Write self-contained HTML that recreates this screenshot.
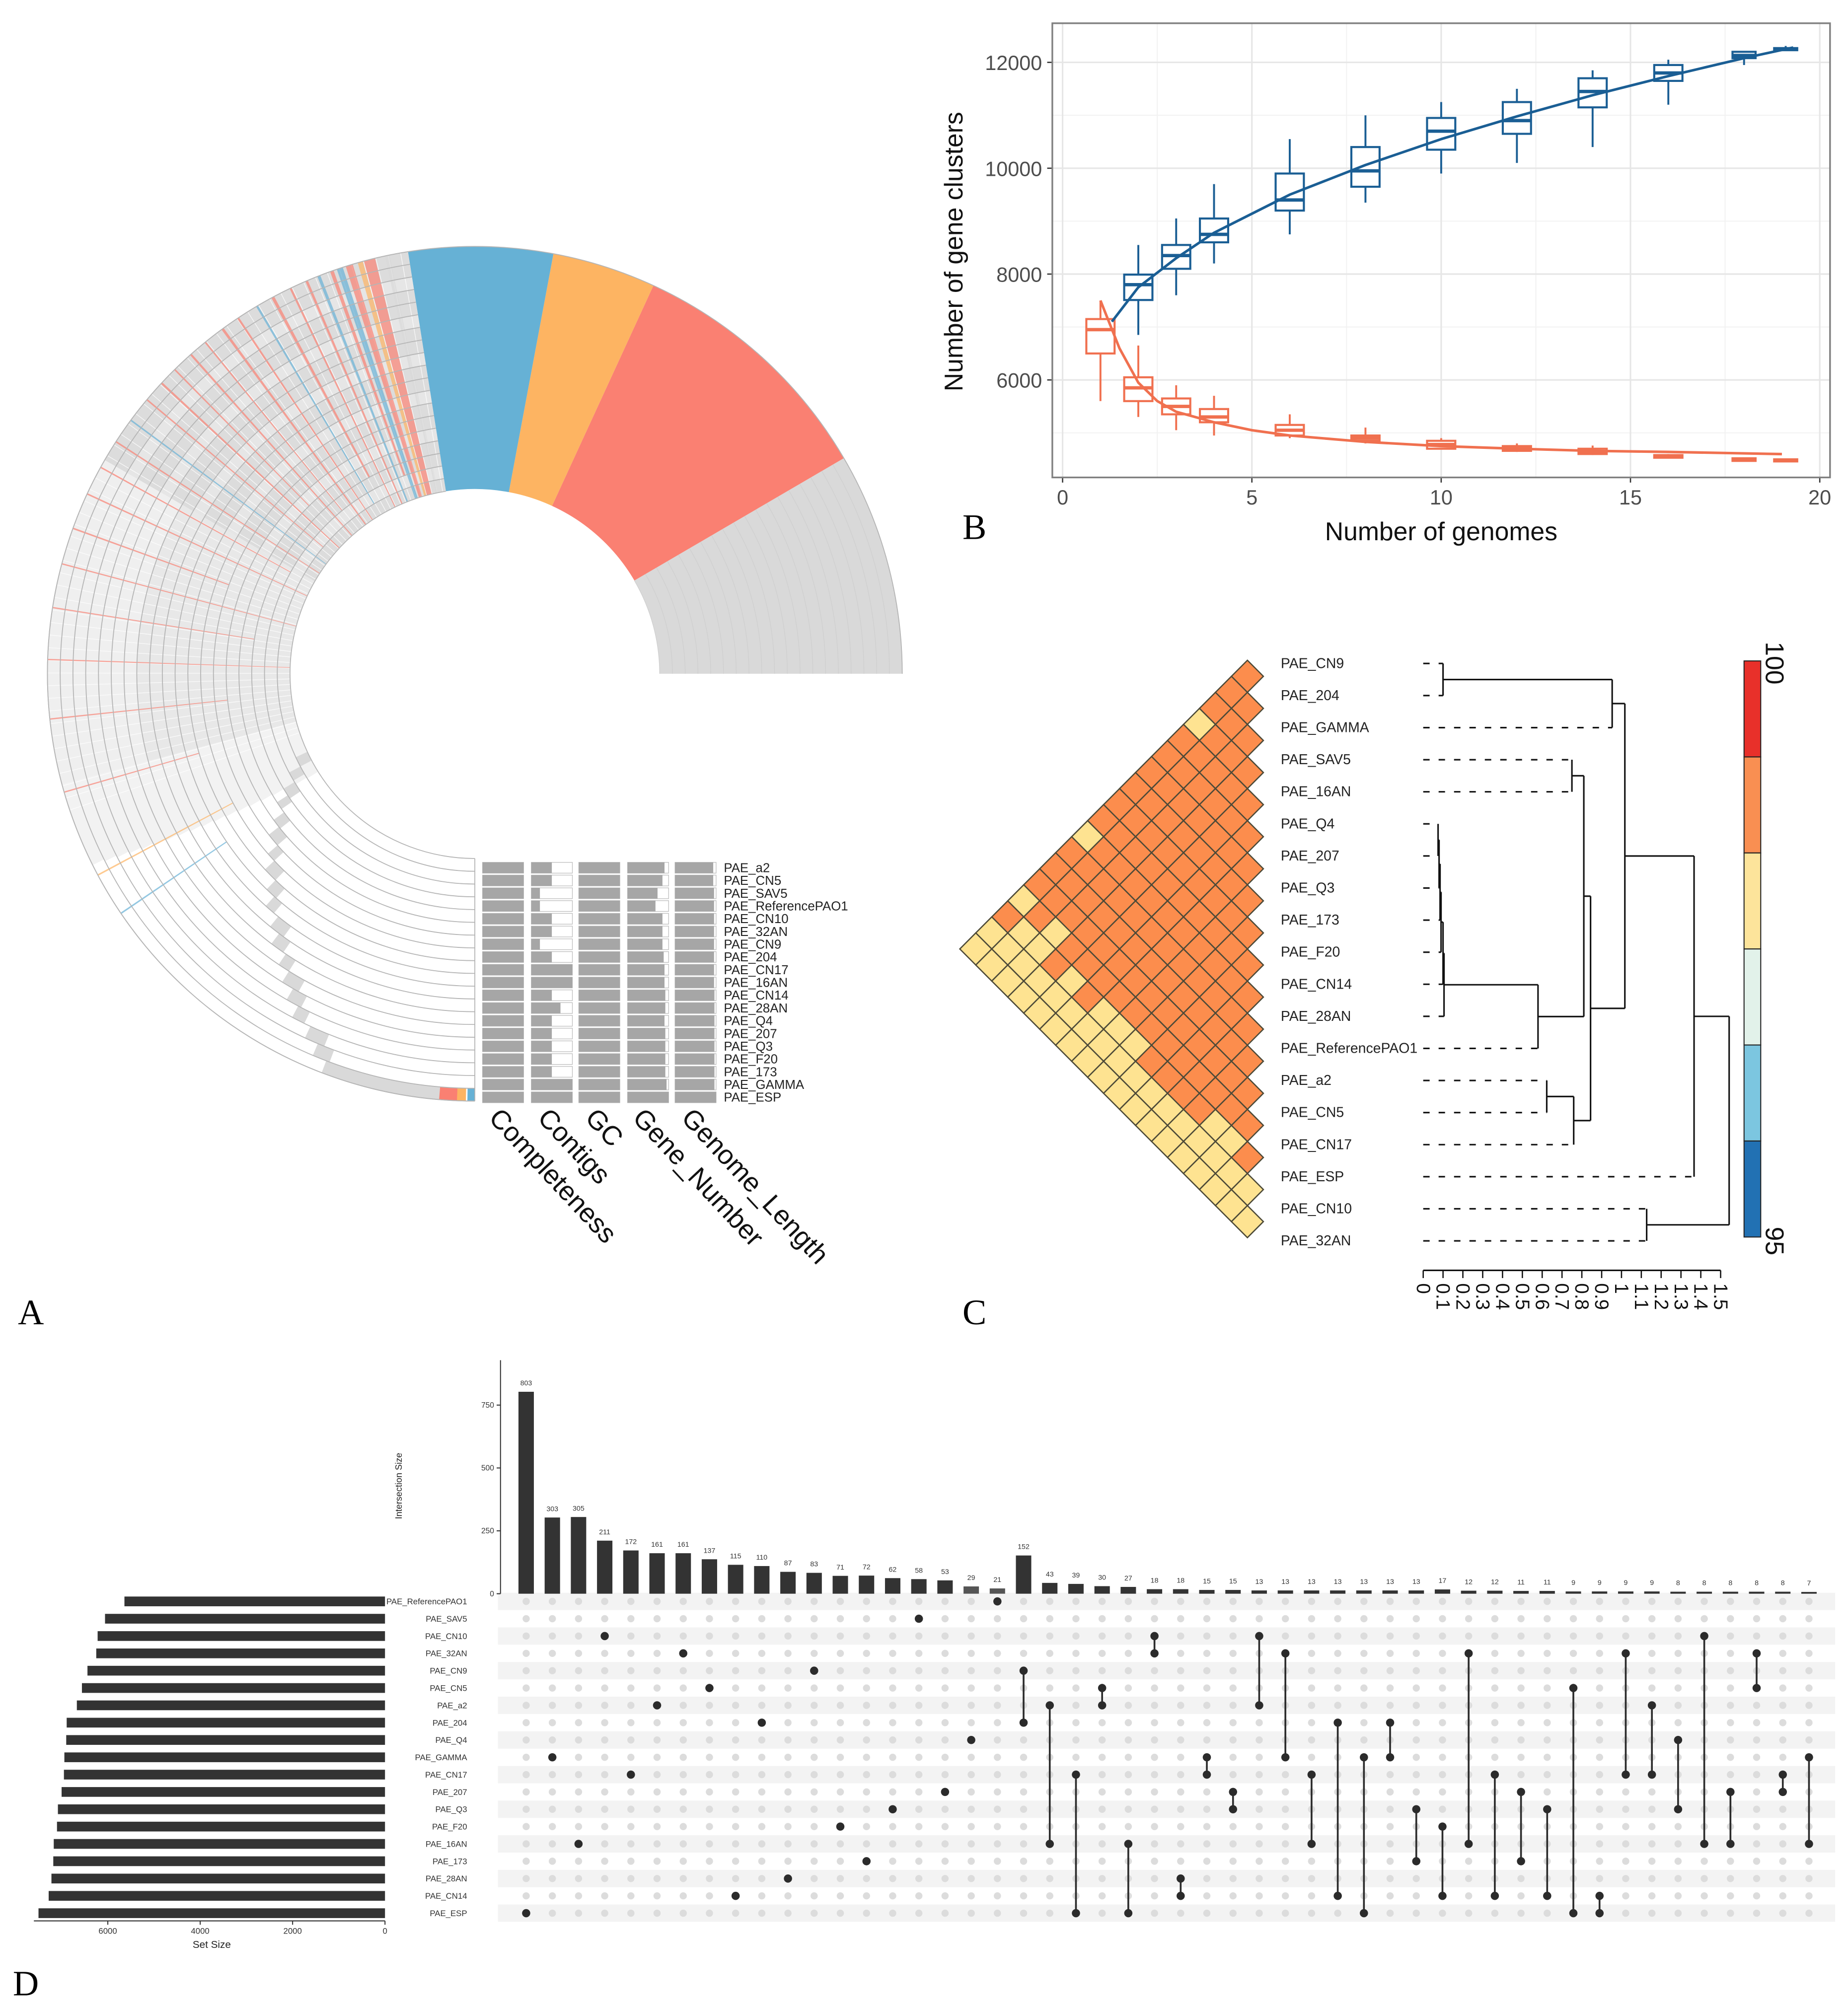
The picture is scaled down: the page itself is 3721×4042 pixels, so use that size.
<!DOCTYPE html>
<html><head><meta charset="utf-8">
<style>
html,body{margin:0;padding:0;background:#fff;}
svg{display:block;font-family:"Liberation Sans",sans-serif;}
.ser{font-family:"Liberation Serif",serif;}
</style></head>
<body>
<svg id="fig" width="3721" height="4042" viewBox="0 0 1440 1564" xmlns="http://www.w3.org/2000/svg">
<rect x="0" y="0" width="1440" height="1564" fill="#fff"/>
<g id="panelA"></g>
<g id="panelB"></g>
<g id="panelC"></g>
<g id="panelD"></g>
<text class="ser" x="14" y="1032" font-size="28">A</text>
<text class="ser" x="750" y="420" font-size="28">B</text>
<text class="ser" x="750" y="1032" font-size="28">C</text>
<text class="ser" x="10" y="1555" font-size="28">D</text>
</svg>
<script>
var NS='http://www.w3.org/2000/svg';
function mk(parent,tag,attrs,txt){var e=document.createElementNS(NS,tag);for(var k in attrs)e.setAttribute(k,attrs[k]);if(txt!==undefined)e.textContent=txt;parent.appendChild(e);return e;}

/* ================= PANEL B data ================= */
var bX=[2,3,4,6,8,10,12,14,16,18,19.1];
var bMed=[7800,8350,8750,9400,9950,10700,10900,11450,11800,12130,12250];
var bQ1=[7510,8100,8600,9200,9650,10350,10650,11150,11650,12080,12230];
var bQ3=[7990,8550,9050,9900,10400,10950,11250,11700,11950,12200,12270];
var bMin=[6850,7600,8200,8750,9350,9900,10100,10400,11200,11950,12220];
var bMax=[8550,9050,9700,10550,11000,11250,11500,11850,12050,12200,12310];
var oX=[1,2,3,4,6,8,10,12,14,16,18,19.1];
var oMed=[6950,5850,5500,5300,5050,4900,4780,4700,4640,4560,4490,4480];
var oQ1=[6500,5600,5350,5200,4950,4850,4700,4660,4600,4530,4470,4460];
var oQ3=[7150,6050,5650,5450,5150,4950,4850,4750,4700,4580,4520,4500];
var oMin=[5600,5300,5050,4950,4900,4800,4700,4640,4580,4520,4460,4450];
var oMax=[7500,6650,5900,5700,5350,5100,4900,4800,4760,4600,4530,4510];
var fitBX=[1.3,2,3,4,6,8,10,12,14,16,18,19.3];
var fitBY=[7100,7750,8300,8780,9500,10060,10550,10980,11380,11740,12080,12280];
var fitOX=[1,1.5,2,2.5,3,4,5,6,8,10,12,14,16,19];
var fitOY=[7500,6600,5950,5600,5400,5200,5050,4950,4830,4750,4700,4660,4640,4600];
var bXTicks=[0,5,10,15,20];
var bYTicks=[6000,8000,10000,12000];

/* ================= PANEL C data ================= */
var cLabels=["PAE_CN9","PAE_204","PAE_GAMMA","PAE_SAV5","PAE_16AN","PAE_Q4","PAE_207","PAE_Q3","PAE_173","PAE_F20","PAE_CN14","PAE_28AN","PAE_ReferencePAO1","PAE_a2","PAE_CN5","PAE_CN17","PAE_ESP","PAE_CN10","PAE_32AN"];
var cLowPairs=[[0,4],[0,11],[0,15],[2,15],[1,16],[2,16],[4,16],[6,16],[7,16],[8,16],[13,16],[14,16],
 [0,17],[1,17],[2,17],[3,17],[4,17],[5,17],[6,17],[7,17],[8,17],[9,17],[10,17],[11,17],[12,17],[13,17],[14,17],[15,17],[16,17],
 [0,18],[1,18],[2,18],[3,18],[4,18],[5,18],[6,18],[7,18],[8,18],[9,18],[10,18],[11,18],[12,18],[13,18],[14,18],[15,18],[16,18],[17,18]];
var mergeA=[-1,1,-4,-6,4,5,6,7,8,9,3,-14,12,11,2,15,-18,16];
var mergeB=[-2,-3,-5,-7,-8,-9,-10,-11,-12,-13,10,-15,-16,13,14,-17,-19,17];
var mergeH=[0.10,0.953,0.75,0.075,0.08,0.085,0.09,0.10,0.105,0.579,0.81,0.623,0.759,0.844,1.017,1.366,1.127,1.543];
var dTicks=["0","0.1","0.2","0.3","0.4","0.5","0.6","0.7","0.8","0.9","1","1.1","1.2","1.3","1.4","1.5"];
var cbarColors=["#e8302a","#f98f52","#fde49b","#e2f2ea","#7cc6e0","#2271b3"];

/* ================= PANEL D data ================= */
var dSets=["PAE_ReferencePAO1","PAE_SAV5","PAE_CN10","PAE_32AN","PAE_CN9","PAE_CN5","PAE_a2","PAE_204","PAE_Q4","PAE_GAMMA","PAE_CN17","PAE_207","PAE_Q3","PAE_F20","PAE_16AN","PAE_173","PAE_28AN","PAE_CN14","PAE_ESP"];
var setSizes=[5640,6060,6220,6250,6440,6560,6670,6890,6900,6940,6950,7000,7080,7100,7170,7180,7220,7280,7500];
var interSizes=[803,303,305,211,172,161,161,137,115,110,87,83,71,72,62,58,53,29,21,152,43,39,30,27,18,18,15,15,13,13,13,13,13,13,13,17,12,12,11,11,9,9,9,9,8,8,8,8,8,7];
var interLabels=["803","303","305","211","172","161","161","137","115","110","87","83","71","72","62","58","53","29","21","152","43","39","30","27","18","18","15","15","13","13","13","13","13","13","13","17","12","12","11","11","9","9","9","9","8","8","8","8","8","7"];
var interMembers=[[18],[9],[14],[2],[10],[6],[3],[5],[17],[7],[16],[4],[13],[15],[12],[1],[11],[8],[0],
 [4,7],[6,14],[10,18],[5,6],[14,18],[2,3],[16,17],[9,10],[11,12],[2,6],[3,9],[10,14],[7,17],[9,18],[7,9],[12,15],[13,17],[3,14],[10,17],[11,15],[12,17],[5,18],[17,18],[3,10],[6,10],[8,12],[2,14],[11,14],[3,5],[10,11],[9,14]];
var interYTicks=[0,250,500,750];
var setXTicks=[0,2000,4000,6000];

/* ================= PANEL A data ================= */
var aGenomes=["PAE_a2","PAE_CN5","PAE_SAV5","PAE_ReferencePAO1","PAE_CN10","PAE_32AN","PAE_CN9","PAE_204","PAE_CN17","PAE_16AN","PAE_CN14","PAE_28AN","PAE_Q4","PAE_207","PAE_Q3","PAE_F20","PAE_173","PAE_GAMMA","PAE_ESP"];
var aCoreStart=[0,30.3,65.3,79.4];
var aCoreEnd=[30.3,65.3,79.4,99];
var aCoreColor=["#d9d9d9","#fa8072","#fdb462","#66b1d5"];
var stripeAng=[101.5,103.5,105.2,106.6,108.0,109.3,111.2,113.0,115.4,118.0,120.5,123.5,126.0,129.0,131.5,134.5,137.0,140.0,143.5,147.0,151.0,155.0,160.0,165.0,171.0,178.0,186.0,196.0,208.0,214.0];
var stripeW=[0.9,2.2,1.0,1.4,1.2,0.7,0.6,0.5,0.4,0.6,0.4,0.4,0.5,0.3,0.4,0.3,0.4,0.3,0.3,0.3,0.3,0.3,0.3,0.25,0.25,0.25,0.25,0.25,0.3,0.3];
var stripeCol=["#d9d9d9","#fa8072","#fdb462","#fa8072","#66b1d5","#fa8072","#66b1d5","#fa8072","#fa8072","#fa8072","#66b1d5","#fa8072","#fa8072","#fa8072","#fa8072","#fa8072","#fa8072","#fa8072","#66b1d5","#fa8072","#fa8072","#fa8072","#fa8072","#fa8072","#fa8072","#fa8072","#fa8072","#fa8072","#fdb462","#66b1d5"];
var stripeRing0=[0,0,0,0,0,2,0,0,0,3,1,0,0,2,0,4,0,1,0,0,2,0,6,0,3,0,5,8,7,9];
var blockAng=[205,208,211,213,216,218,221,223,226,228,231,233,236,238,240,242,245,247,249];
var blockW=[3,2.5,3,2,2.5,3,2,3,2.5,2,3,2.5,2,3,2.5,2,3,2.5,18];
var contigFrac=[0.5,0.5,0.21,0.21,0.5,0.5,0.21,0.5,1,1,0.5,0.71,0.5,0.5,0.5,0.5,0.5,1,1];
var geneFrac=[0.9,0.85,0.73,0.68,0.85,0.85,0.85,0.88,0.9,0.9,0.92,0.92,0.9,0.92,0.92,0.92,0.92,0.95,1];
var lenFrac=[0.93,0.93,0.95,0.95,0.95,0.95,0.95,0.95,0.95,0.95,0.96,0.96,0.96,0.96,0.96,0.96,0.96,0.96,1];
var trackNames=["Completeness","Contigs","GC","Gene_Number","Genome_Length"];

/* ================= DRAW PANEL A ================= */
(function(){
 var g=document.getElementById('panelA');
 var cx=370, cy=525, rIn=144, tw=9.95, nR=19;
 function P(r,a){var t=a*Math.PI/180;return [cx+r*Math.cos(t),cy-r*Math.sin(t)];}
 function sector(r0,r1,a0,a1){var p1=P(r1,a0),p2=P(r1,a1),p3=P(r0,a1),p4=P(r0,a0);var lg=(a1-a0)>180?1:0;
  return 'M'+p1[0].toFixed(2)+' '+p1[1].toFixed(2)+'A'+r1+' '+r1+' 0 '+lg+' 0 '+p2[0].toFixed(2)+' '+p2[1].toFixed(2)+'L'+p3[0].toFixed(2)+' '+p3[1].toFixed(2)+'A'+r0+' '+r0+' 0 '+lg+' 1 '+p4[0].toFixed(2)+' '+p4[1].toFixed(2)+'Z';}
 function arc(rr,a0,a1,col,w){var p1=P(rr,a0),p2=P(rr,a1);var lg=(a1-a0)>180?1:0;
  var c=mk(g,'path',{d:'M'+p1[0]+' '+p1[1]+'A'+rr+' '+rr+' 0 '+lg+' 0 '+p2[0]+' '+p2[1],fill:'none',stroke:col,'stroke-width':w});
  
  }
 var rOut=rIn+nR*tw;
 for(var i=0;i<aCoreStart.length;i++){
  var e=mk(g,'path',{d:sector(rIn,rOut,aCoreStart[i],aCoreEnd[i]),fill:aCoreColor[i]});
  
  
 }
 for(var r=0;r<nR;r++){
  var r0=rIn+r*tw, r1=r0+tw;
  var e=mk(g,'path',{d:sector(r0,r1,99,150),fill:(r%3==1?'#e6e6e6':'#dcdcdc')});
  
  
  var e2=mk(g,'path',{d:sector(r0,r1,150,195),fill:(r<12?'#e8e8e8':'#efefef')});
  
  
  var e3=mk(g,'path',{d:sector(r0,r1,195,212-0.3*r),fill:'#f2f2f2'});
  
  
 }
 for(var a=100;a<200;a+=1.7){
  var p1=P(rIn,a),p2=P(rOut,a);
  var l=mk(g,'line',{x1:p1[0],y1:p1[1],x2:p2[0],y2:p2[1],stroke:'#fff','stroke-width':0.5,opacity:0.8});
  
  
 }
 for(var i=0;i<stripeAng.length;i++){
  var e=mk(g,'path',{d:sector(rIn+stripeRing0[i]*tw,rOut,stripeAng[i],stripeAng[i]+stripeW[i]*0.7),fill:stripeCol[i],opacity:0.7});
  
  
 }
 for(var i=0;i<blockAng.length;i++){
  var r0=rIn+i*tw;
  var e=mk(g,'path',{d:sector(r0,r0+tw,blockAng[i],blockAng[i]+blockW[i]),fill:'#d9d9d9'});
  
  
 }
 var endC=[['#fa8072',265.2,2.6],['#fdb462',267.6,1.2],['#66b1d5',269.0,1.0]];
 for(var i=0;i<endC.length;i++){var e=mk(g,'path',{d:sector(rOut-tw,rOut,endC[i][1],endC[i][1]+endC[i][2]),fill:endC[i][0]});
  
  }
 for(var r=0;r<=nR;r++){
  var rr=rIn+r*tw;
  arc(rr,99,270,'#b5b5b5',0.7);
  arc(rr,0,30.3,'#cfcfcf',0.5);
 }
 arc(rOut,0,270,'#b5b5b5',0.7);
 var pe1=P(rIn,270),pe2=P(rOut,270);
 mk(g,'line',{x1:pe1[0],y1:pe1[1],x2:pe2[0],y2:pe2[1],stroke:'#b5b5b5','stroke-width':0.7});
 var colX=[376,414,451,489,526], colW=32;
 for(var i=0;i<aGenomes.length;i++){
  var y=672+9.94*i;
  var fr=[1,contigFrac[i],1,geneFrac[i],lenFrac[i]];
  for(var c=0;c<5;c++){
   var bg=mk(g,'rect',{x:colX[c],y:y,width:colW,height:8.4,fill:'#fff',stroke:'#bdbdbd','stroke-width':0.5});
   
   
   var b=mk(g,'rect',{x:colX[c],y:y,width:colW*fr[c],height:8.4,fill:'#a6a6a6'});
   
   
  }
  var t=mk(g,'text',{x:564,y:y+7.6,'font-size':10,fill:'#222'},aGenomes[i]);
  
  
 }
 var lx=[380,418,455,492,530];
 for(var c=0;c<5;c++){
  var t=mk(g,'text',{x:lx[c],y:872,'font-size':21,fill:'#111',transform:'rotate(47 '+lx[c]+' 872)'},trackNames[c]);
  
  
 }
})();

/* ================= DRAW PANEL B ================= */
(function(){
 var g=document.getElementById('panelB');
 var L=820,R=1426,T=18,B=372;
 function X(v){return 828+v*29.5;}
 function Y(v){return 296-(v-6000)*0.04125;}
 mk(g,'rect',{x:L,y:T,width:R-L,height:B-T,fill:'#fff'});
 for(var v=2.5;v<20;v+=5){mk(g,'line',{x1:X(v),y1:T,x2:X(v),y2:B,stroke:'#f2f2f2','stroke-width':0.8});}
 for(var v=5000;v<=12000;v+=2000){mk(g,'line',{x1:L,y1:Y(v),x2:R,y2:Y(v),stroke:'#f2f2f2','stroke-width':0.8});}
 for(var i=0;i<bXTicks.length;i++){var x=X(bXTicks[i]);mk(g,'line',{x1:x,y1:T,x2:x,y2:B,stroke:'#e6e6e6','stroke-width':1.2});
  mk(g,'line',{x1:x,y1:B,x2:x,y2:B+4,stroke:'#333','stroke-width':1});
  var t=mk(g,'text',{x:x,y:B+21,'text-anchor':'middle','font-size':16,fill:'#4d4d4d'},String(bXTicks[i]));
  
  }
 for(var i=0;i<bYTicks.length;i++){var y=Y(bYTicks[i]);mk(g,'line',{x1:L,y1:y,x2:R,y2:y,stroke:'#e6e6e6','stroke-width':1.2});
  mk(g,'line',{x1:L-4,y1:y,x2:L,y2:y,stroke:'#333','stroke-width':1});
  var t=mk(g,'text',{x:L-8,y:y+6,'text-anchor':'end','font-size':16,fill:'#4d4d4d'},String(bYTicks[i]));
  
  }
 function boxes(xs,med,q1,q3,mn,mx,col,name){
  for(var i=0;i<xs.length;i++){
   var x=X(xs[i]),w=(xs[i]>17?18:22);
   var wl=mk(g,'line',{x1:x,y1:Y(mn[i]),x2:x,y2:Y(mx[i]),stroke:col,'stroke-width':1.5});
   
   
   var b=mk(g,'rect',{x:x-w/2,y:Y(q3[i]),width:w,height:Math.max(1.5,Y(q1[i])-Y(q3[i])),fill:'#fff',stroke:col,'stroke-width':1.6});
   
   
   var m=mk(g,'line',{x1:x-w/2,y1:Y(med[i]),x2:x+w/2,y2:Y(med[i]),stroke:col,'stroke-width':2.6});
   
   
  }
 }
 boxes(oX,oMed,oQ1,oQ3,oMin,oMax,'#f0704f','core-genome');
 boxes(bX,bMed,bQ1,bQ3,bMin,bMax,'#1a5e94','pan-genome');
 function line(xs,ys,col,name){var d='';for(var i=0;i<xs.length;i++){d+=(i?'L':'M')+X(xs[i]).toFixed(1)+' '+Y(ys[i]).toFixed(1);}
  var p=mk(g,'path',{d:d,fill:'none',stroke:col,'stroke-width':2,'stroke-linejoin':'round'});
  
  }
 line(fitOX,fitOY,'#f0704f','core-fit-line');
 line(fitBX,fitBY,'#1a5e94','pan-fit-line');
 mk(g,'rect',{x:L,y:T,width:R-L,height:B-T,fill:'none',stroke:'#7f7f7f','stroke-width':1.3});
 var t=mk(g,'text',{x:1123,y:421,'text-anchor':'middle','font-size':20,fill:'#111'},'Number of genomes');
 
 
 var t2=mk(g,'text',{x:0,y:0,'text-anchor':'middle','font-size':20,fill:'#111',transform:'translate(750 196) rotate(-90)'},'Number of gene clusters');
 
 
})();

/* ================= DRAW PANEL C ================= */
(function(){
 var g=document.getElementById('panelC');
 var low={};for(var i=0;i<cLowPairs.length;i++)low[cLowPairs[i][0]+'_'+cLowPairs[i][1]]=1;
 var hw=12.45,hh=12.5,xe=972,y0=514.5;
 for(var i=0;i<19;i++)for(var j=i+1;j<19;j++){
  var k=j-i-1,cx=xe-hw*k,cy=y0+hh*(i+j);
  var d='M'+cx+' '+(cy-hh)+'L'+(cx+hw)+' '+cy+'L'+cx+' '+(cy+hh)+'L'+(cx-hw)+' '+cy+'Z';
  var p=mk(g,'path',{d:d,fill:low[i+'_'+j]?'#fee391':'#fc8d4d',stroke:'#4d4a38','stroke-width':1});
  
  
 }
 for(var i=0;i<19;i++){
  var t=mk(g,'text',{x:998,y:y0+25*i+6,'font-size':11,fill:'#222'},cLabels[i]);
  
  
 }
 var x0=1109;
 function HX(h){return x0+h*154.5;}
 function LY(i){return 517+25*i;}
 var nodeY=[],nodeH=[];
 function info(id){if(id<0)return{y:LY(-id-1),h:0,leaf:true};return{y:nodeY[id-1],h:nodeH[id-1],leaf:false};}
 for(var m=0;m<mergeH.length;m++){
  var a=info(mergeA[m]),b=info(mergeB[m]),hx=HX(mergeH[m]);
  nodeY.push((a.y+b.y)/2);nodeH.push(mergeH[m]);
  var ch=[a,b];
  for(var c=0;c<2;c++){
   var l=mk(g,'line',{x1:HX(ch[c].h),y1:ch[c].y,x2:hx,y2:ch[c].y,stroke:'#111','stroke-width':1.2});
   if(ch[c].leaf){l.setAttribute('stroke-dasharray','5 7');}
   
   
  }
  var v=mk(g,'line',{x1:hx,y1:a.y,x2:hx,y2:b.y,stroke:'#111','stroke-width':1.2});
  
  
 }
 mk(g,'line',{x1:HX(0),y1:990,x2:HX(1.5),y2:990,stroke:'#111','stroke-width':1.2});
 for(var i=0;i<dTicks.length;i++){var x=HX(parseFloat(dTicks[i]));
  mk(g,'line',{x1:x,y1:990,x2:x,y2:996,stroke:'#111','stroke-width':1});
  var t=mk(g,'text',{x:x-5,y:1000,'font-size':15,fill:'#111',transform:'rotate(90 '+(x-5)+' 1000)'},dTicks[i]);
  
  }
 var segH=(964-515)/6;
 for(var i=0;i<6;i++){var r=mk(g,'rect',{x:1359,y:515+i*segH,width:13,height:segH,fill:cbarColors[i],stroke:'#222','stroke-width':0.8});
  
  }
 var t1=mk(g,'text',{x:1376,y:500,'font-size':20,fill:'#111',transform:'rotate(90 1376 500)'},'100');
 
 
 var t2=mk(g,'text',{x:1376,y:956,'font-size':20,fill:'#111',transform:'rotate(90 1376 956)'},'95');
 
 
})();

/* ================= DRAW PANEL D ================= */
(function(){
 var g=document.getElementById('panelD');
 function CX(i){return 410+20.4*i;}
 function RY(r){return 1248+13.5*r;}
 function IY(v){return 1242-v*0.196;}
 function SX(v){return 300-v*0.036;}
 for(var r=0;r<dSets.length;r++){
  if(r%2==0){var s=mk(g,'rect',{x:388,y:RY(r)-6.75,width:1042,height:13.5,fill:'#f3f3f3'});
   
   }
  var t=mk(g,'text',{x:364,y:RY(r)+2.3,'text-anchor':'end','font-size':6.5,fill:'#333'},dSets[r]);
  
  
  var b=mk(g,'rect',{x:SX(setSizes[r]),y:RY(r)-3.8,width:300-SX(setSizes[r]),height:7.6,fill:'#333'});
  
  
 }
 mk(g,'line',{x1:SX(7600),y1:1497,x2:300,y2:1497,stroke:'#333','stroke-width':0.8});
 for(var i=0;i<setXTicks.length;i++){var x=SX(setXTicks[i]);
  mk(g,'line',{x1:x,y1:1497,x2:x,y2:1500,stroke:'#333','stroke-width':0.8});
  var t=mk(g,'text',{x:x,y:1507,'text-anchor':'middle','font-size':6.5,fill:'#333'},String(setXTicks[i]));
  
  }
 var st=mk(g,'text',{x:165,y:1518,'text-anchor':'middle','font-size':8,fill:'#222'},'Set Size');
 
 
 mk(g,'line',{x1:390,y1:1060,x2:390,y2:1242,stroke:'#333','stroke-width':0.8});
 for(var i=0;i<interYTicks.length;i++){var y=IY(interYTicks[i]);
  mk(g,'line',{x1:387,y1:y,x2:390,y2:y,stroke:'#333','stroke-width':0.8});
  var t=mk(g,'text',{x:385,y:y+2,'text-anchor':'end','font-size':6,fill:'#333'},String(interYTicks[i]));
  
  }
 var it=mk(g,'text',{x:0,y:0,'text-anchor':'middle','font-size':7,fill:'#222',transform:'translate(313 1158) rotate(-90)'},'Intersection Size');
 
 
 for(var i=0;i<interSizes.length;i++){
  var x=CX(i),y=IY(interSizes[i]);
  var b=mk(g,'rect',{x:x-6,y:y,width:12,height:1242-y,fill:interSizes[i]<30&&i<19?'#555':'#333'});
  
  
  var t=mk(g,'text',{x:x,y:y-5,'text-anchor':'middle','font-size':5.5,fill:'#333'},interLabels[i]);
  
  
  var mem=interMembers[i];
  for(var r=0;r<dSets.length;r++){
   var on=mem.indexOf(r)>=0;
   var c=mk(g,'circle',{cx:x,cy:RY(r),r:on?3.2:2.8,fill:on?'#2b2b2b':'#dcdcdc'});
   
   
  }
  if(mem.length>1){var ys=mem.map(RY);
   var l=mk(g,'line',{x1:x,y1:Math.min.apply(null,ys),x2:x,y2:Math.max.apply(null,ys),stroke:'#2b2b2b','stroke-width':1.4});
   
   }
 }
})();
</script>
</body></html>
